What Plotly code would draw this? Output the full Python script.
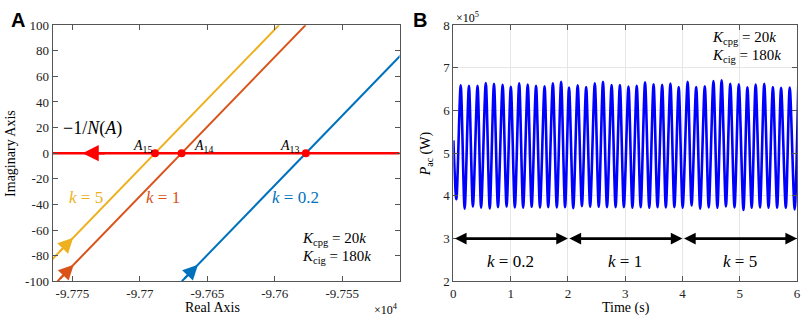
import numpy as np
import plotly.graph_objects as go

W, H = 809, 326
SERIF = "Liberation Serif"
SANS = "Liberation Sans"

# ---------------- Panel A data ----------------
locus_im = [-100, 100]
locus_re_k02 = [-97668.9, -97485.1]
locus_re_k1 = [-97761.0, -97577.2]
locus_re_k5 = [-97780.7, -97596.9]
k_colors = ["#0072BD", "#D95319", "#EDB120"]
arrow_im = [-87, -87, -66]
nyq_re = [-97800.0, -97480.0]
nyq_im = [0, 0]
nyq_arrow_re = [-97725.0, -97742.5]
a_xticks = [-97750, -97700, -97650, -97600, -97550]
a_xticktext = ["-9.775", "-9.77", "-9.765", "-9.76", "-9.755"]
a_yticks = [-100, -80, -60, -40, -20, 0, 20, 40, 60, 80, 100]
a_yticktext = ["-100", "-80", "-60", "-40", "-20", "0", "20", "40", "60", "80", "100"]

# ---------------- Panel B data (x1e5 W) ----------------
start_t, start_p = 0.0, 5.30
trough_t = [0.052, 0.197, 0.341, 0.484, 0.635, 0.779, 0.929, 1.073, 1.218, 1.367,
            1.512, 1.656, 1.806, 1.950, 2.093, 2.244, 2.388, 2.538, 2.682, 2.832,
            2.976, 3.126, 3.270, 3.420, 3.564, 3.709, 3.858, 4.003, 4.159, 4.308,
            4.458, 4.609, 4.758, 4.908, 5.064, 5.208, 5.353, 5.502, 5.652, 5.803, 5.958]
trough_p = [3.92, 3.70, 3.752, 3.723, 3.707, 3.736, 3.752, 3.73, 3.723, 3.745,
            3.73, 3.736, 3.73, 3.736, 3.714, 3.759, 3.745, 3.745, 3.736, 3.736,
            3.736, 3.723, 3.736, 3.723, 3.736, 3.73, 3.736, 3.723, 3.774, 3.70,
            3.73, 3.723, 3.752, 3.73, 3.67, 3.723, 3.73, 3.723, 3.723, 3.723, 3.685]
peak_t = [0.128, 0.272, 0.422, 0.566, 0.709, 0.860, 1.003, 1.149, 1.298, 1.443,
          1.592, 1.737, 1.881, 2.019, 2.170, 2.318, 2.469, 2.612, 2.763, 2.907,
          3.057, 3.201, 3.346, 3.495, 3.645, 3.789, 3.934, 4.090, 4.239, 4.389,
          4.540, 4.683, 4.834, 4.983, 5.133, 5.277, 5.427, 5.578, 5.721, 5.872, 6.021]
peak_p = [6.59, 6.58, 6.58, 6.646, 6.624, 6.602, 6.557, 6.637, 6.608, 6.58,
          6.57, 6.637, 6.67, 6.537, 6.588, 6.55, 6.637, 6.67, 6.595, 6.595,
          6.56, 6.58, 6.66, 6.615, 6.60, 6.63, 6.55, 6.67, 6.55, 6.57,
          6.69, 6.705, 6.626, 6.615, 6.544, 6.61, 6.626, 6.55, 6.53, 6.537, 6.59]
seg_start = [0, 2, 4]
seg_end = [2, 4, 6]
seg_labels = ["<i>k</i> = 0.2", "<i>k</i> = 1", "<i>k</i> = 5"]
seg_y = 3.0
seg_label_y = 2.47

t_series = [start_t]
p_series = [start_p]
for a, b, c, d in zip(trough_t, trough_p, peak_t, peak_p):
    t_series += [a, c]
    p_series += [b, d]


def px(x):
    return x / W


def py(y):
    return 1 - y / H


fig = go.Figure()

loci = [locus_re_k02, locus_re_k1, locus_re_k5]
for re, col in zip(loci, k_colors):
    fig.add_trace(go.Scatter(x=re, y=locus_im, mode="lines",
                             line=dict(color=col, width=2), xaxis="x", yaxis="y",
                             showlegend=False, hoverinfo="skip"))

fig.add_trace(go.Scatter(x=nyq_re, y=nyq_im, mode="lines",
                         line=dict(color="#FF0000", width=2.5), xaxis="x", yaxis="y",
                         showlegend=False, hoverinfo="skip"))

cross_re = [float(np.interp(0, locus_im, re)) for re in loci]
fig.add_trace(go.Scatter(x=cross_re, y=[0, 0, 0], mode="markers",
                         marker=dict(color="#FF0000", size=8), xaxis="x", yaxis="y",
                         showlegend=False, hoverinfo="skip"))

fig.add_trace(go.Scatter(x=t_series, y=p_series, mode="lines",
                         line=dict(color="#0000FF", width=2.6, shape="spline", smoothing=0.8),
                         xaxis="x2", yaxis="y2", showlegend=False, hoverinfo="skip"))

ann = []
# arrowheads on the loci
for re, col, im in zip(loci, k_colors, arrow_im):
    tip_re = float(np.interp(im, locus_im, re))
    tail_re = float(np.interp(im - 12, locus_im, re))
    ann.append(dict(x=tip_re, y=im, ax=tail_re, ay=im - 12, xref="x", yref="y",
                    axref="x", ayref="y", text="", showarrow=True, arrowhead=2,
                    arrowsize=1.5, arrowwidth=2, arrowcolor=col, standoff=0))
# arrowhead on -1/N(A)
ann.append(dict(x=nyq_arrow_re[1], y=0, ax=nyq_arrow_re[0], ay=0, xref="x", yref="y",
                axref="x", ayref="y", text="", showarrow=True, arrowhead=2,
                arrowsize=1.3, arrowwidth=2.5, arrowcolor="#FF0000", standoff=0))

# double arrows panel B
for s, e, lab in zip(seg_start, seg_end, seg_labels):
    ann.append(dict(x=e, y=seg_y, ax=s, ay=seg_y, xref="x2", yref="y2", axref="x2",
                    ayref="y2", text="", showarrow=True, arrowhead=2, startarrowhead=2,
                    arrowside="end+start", arrowsize=0.9, startarrowsize=0.9,
                    arrowwidth=2.6, arrowcolor="black", standoff=0, startstandoff=0))
    ann.append(dict(x=(s + e) / 2, y=seg_label_y, xref="x2", yref="y2", text=lab,
                    showarrow=False, font=dict(family=SERIF, size=17, color="black")))


def txt(x, y, text, size=14, color="black", xa="center", ya="middle", family=SERIF, angle=0):
    ann.append(dict(x=px(x), y=py(y), xref="paper", yref="paper", text=text,
                    showarrow=False, xanchor=xa, yanchor=ya, textangle=angle,
                    font=dict(family=family, size=size, color=color)))


txt(15, 14, "<b>A</b>", size=20, family=SANS)
txt(421, 14, "<b>B</b>", size=20, family=SANS)
txt(8, 153, "Imaginary Axis", size=14, angle=-90)
txt(211, 315, "Real Axis", size=14)
txt(386, 317, "×10<sup>4</sup>", size=12)
txt(628, 315, "Time (s)", size=14)
txt(428, 154, "<i>P</i><sub>ac</sub> (W)", size=14, angle=-90)
txt(469, 11, "×10<sup>5</sup>", size=12)

txt(90, 127, "−1/<i>N</i>(<i>A</i>)", size=18)
txt(141, 146, "<i>A</i><sub>15</sub>", size=14)
txt(202, 146, "<i>A</i><sub>14</sub>", size=14)
txt(289, 146, "<i>A</i><sub>13</sub>", size=14)
txt(84, 200, "<i>k</i> = 5", size=17, color=k_colors[2])
txt(161, 200, "<i>k</i> = 1", size=17, color=k_colors[1])
txt(295, 200, "<i>k</i> = 0.2", size=17, color=k_colors[0])
txt(300, 243, "<i>K</i><sub>cpg</sub> = 20<i>k</i>", size=15, xa="left")
txt(300, 262, "<i>K</i><sub>cig</sub> = 180<i>k</i>", size=15, xa="left")
txt(713, 32, "<i>K</i><sub>cpg</sub> = 20<i>k</i>", size=15, xa="left")
txt(713, 51, "<i>K</i><sub>cig</sub> = 180<i>k</i>", size=15, xa="left")

axis_common = dict(showline=True, linecolor="#555555", linewidth=1, mirror="ticks",
                   ticks="inside", ticklen=5, tickcolor="#555555", zeroline=False,
                   tickfont=dict(family=SERIF, size=13, color="#222222"))

ydom = [py(287.5), py(19)]
fig.update_layout(
    width=W, height=H, margin=dict(l=0, r=0, t=0, b=0),
    paper_bgcolor="white", plot_bgcolor="white",
    xaxis=dict(domain=[px(50), px(400)], range=[-97764.7, -97507.6], anchor="y",
               tickvals=a_xticks, ticktext=a_xticktext, showgrid=False, **axis_common),
    yaxis=dict(domain=ydom, range=[-100, 100], anchor="x",
               tickvals=a_yticks, ticktext=a_yticktext, showgrid=False, **axis_common),
    xaxis2=dict(domain=[px(454.3), px(801)], range=[0, 6], anchor="y2",
                tickvals=[0, 1, 2, 3, 4, 5, 6], showgrid=True, gridcolor="#e6e6e6",
                ticklabeloverflow="allow", **axis_common),
    yaxis2=dict(domain=ydom, range=[2, 8], anchor="x2",
                tickvals=[2, 3, 4, 5, 6, 7, 8], showgrid=True, gridcolor="#e6e6e6",
                **axis_common),
    annotations=ann,
)

fig.write_html("out.html", config={"displayModeBar": False},
               post_script="document.body.style.margin='0';")
